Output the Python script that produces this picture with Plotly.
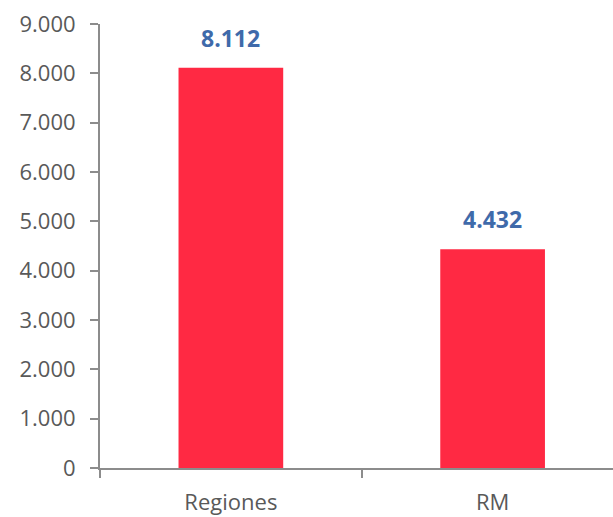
import plotly.graph_objects as go

categories = ["Regiones", "RM"]
values = [8112, 4432]
labels = ["8.112", "4.432"]
y_ticks = [0, 1000, 2000, 3000, 4000, 5000, 6000, 7000, 8000, 9000]
y_ticktext = ["0", "1.000", "2.000", "3.000", "4.000", "5.000", "6.000", "7.000", "8.000", "9.000"]

fig = go.Figure()
fig.add_trace(go.Bar(
    x=categories, y=values, marker=dict(color="#FF2943", line=dict(width=0)),
    width=0.4, showlegend=False, hoverinfo="skip",
))
for c, v, t in zip(categories, values, labels):
    fig.add_annotation(x=c, y=v, text="<b>%s</b>" % t, showarrow=False,
                       yanchor="bottom", yshift=12,
                       font=dict(family="Open Sans", size=23, color="#3F6AAA"))

axis_col = "#8C8C8C"
fig.update_layout(
    width=613, height=517,
    margin=dict(l=100, r=0, t=24, b=49),
    paper_bgcolor="white", plot_bgcolor="white",
    font=dict(family="Open Sans", size=22, color="#595959"),
    bargap=0.6,
)
fig.update_xaxes(
    type="category", range=[-0.5, 1.46], tickson="boundaries",
    showline=True, linecolor=axis_col, linewidth=2,
    ticks="outside", ticklen=8, tickcolor=axis_col, tickwidth=2,
    showgrid=False, zeroline=False, ticklabelstandoff=14,
    tickfont=dict(family="Open Sans", size=22, color="#595959"),
)
fig.update_yaxes(
    range=[0, 9000], tickvals=y_ticks, ticktext=y_ticktext,
    showline=True, linecolor=axis_col, linewidth=2,
    ticks="outside", ticklen=8, tickcolor=axis_col, tickwidth=2,
    showgrid=False, zeroline=False, ticklabelstandoff=10,
    tickfont=dict(family="Open Sans", size=22, color="#595959"),
)
fig.write_html("out.html")
